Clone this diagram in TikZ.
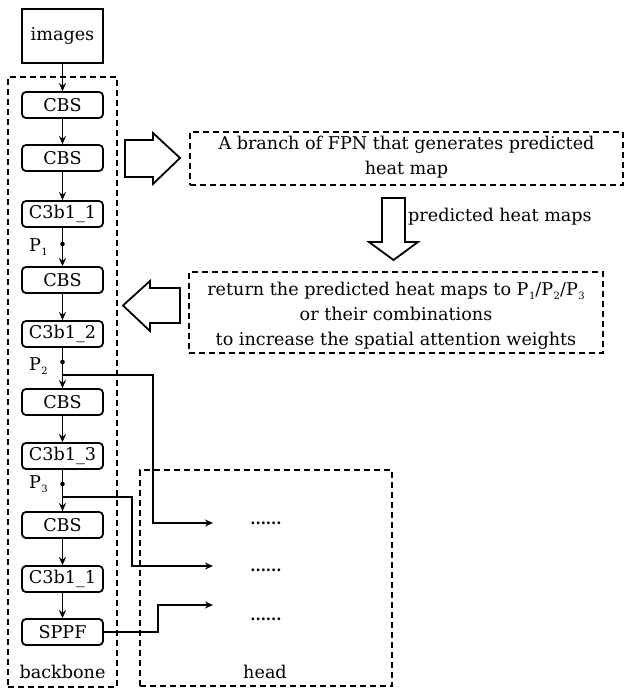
\documentclass[tikz,border=0pt]{standalone}
\usepackage{fontspec}
\setmainfont{DejaVu Serif}
\usetikzlibrary{arrows.meta}
\newcommand\psb[1]{P\kern0.5pt\raisebox{-4pt}{\fontsize{10}{10}\selectfont #1}}
\begin{document}
\begin{tikzpicture}[x=1pt,y=-1pt,
  txt/.style={font=\fontsize{17.6}{25}\selectfont, inner sep=0pt},
  blk/.style={draw, line width=1.8pt, rounded corners=4pt, minimum width=81pt, minimum height=26pt, inner sep=0pt, font=\fontsize{17.6}{23}\selectfont},
  dbox/.style={draw, line width=1.7pt, dash pattern=on 6pt off 4pt, inner sep=0pt},
  conn/.style={line width=1.6pt, -{Stealth[length=8pt,width=7pt]}},
  hollow/.style={draw, line width=1.8pt, line join=miter},
  dots/.style={inner sep=0pt, font=\bfseries\fontsize{15}{16}\selectfont},
]
\useasboundingbox (0,0) rectangle (625,691);

% dashed group boxes
\node[dbox, minimum width=109pt, minimum height=610pt] (backbone) at (62.5,382) {};
\node[dbox, minimum width=252pt, minimum height=216pt] (head) at (266,578) {};
\node[txt] (bblabel) at (62.5,672) {backbone};
\node[txt] (hdlabel) at (265,672) {head};

% input
\node[draw, line width=1.8pt, minimum width=81pt, minimum height=54pt, inner sep=0pt, font=\fontsize{17.6}{23}\selectfont] (img) at (62.5,36) {images};

% backbone blocks
\node[blk] (b1) at (62.5,105) {CBS};
\node[blk] (b2) at (62.5,158) {CBS};
\node[blk] (b3) at (62.5,214) {C3b1\_1};
\node[blk] (b4) at (62.5,280) {CBS};
\node[blk] (b5) at (62.5,334) {C3b1\_2};
\node[blk] (b6) at (62.5,402) {CBS};
\node[blk] (b7) at (62.5,456) {C3b1\_3};
\node[blk] (b8) at (62.5,525) {CBS};
\node[blk] (b9) at (62.5,579) {C3b1\_1};
\node[blk] (b10) at (62.5,632) {SPPF};

% tap points
\coordinate (p1) at (62.5,244);
\coordinate (p2) at (62.5,362);
\coordinate (p2b) at (62.5,375);
\coordinate (p3) at (62.5,484);
\coordinate (p3b) at (62.5,497);
\fill (p1) circle (2.3pt);
\fill (p2) circle (2.3pt);
\fill (p3) circle (2.3pt);
\node[txt, anchor=east] (lp1) at (48,247) {\psb{1}};
\node[txt, anchor=east] (lp2) at (48,366) {\psb{2}};
\node[txt, anchor=east] (lp3) at (48,484) {\psb{3}};

% vertical chain
\draw[conn] (img) -- (b1);
\draw[conn] (b1) -- (b2);
\draw[conn] (b2) -- (b3);
\draw[conn] (b3) -- (b4);
\draw[conn] (b4) -- (b5);
\draw[conn] (b5) -- (b6);
\draw[conn] (b6) -- (b7);
\draw[conn] (b7) -- (b8);
\draw[conn] (b8) -- (b9);
\draw[conn] (b9) -- (b10);

% head entries
\node[dots] (d1) at (266,523) {......};
\node[dots] (d2) at (266,570) {......};
\node[dots] (d3) at (266,619) {......};
\coordinate (h1) at (213,523);
\coordinate (h2) at (213,566);
\coordinate (h3) at (213,605);
\draw[conn] (p2b) -| (153,523) -- (h1);
\draw[conn] (p3b) -| (132,566) -- (h2);
\draw[conn] (b10.east) -- (158,632) |- (h3);

% FPN branch boxes
\node[dbox, minimum width=433pt, minimum height=53pt] (fpn) at (406.5,158.5) {};
\node[txt, align=center] (fpntxt) at (406.5,157.5) {A branch of FPN that generates predicted\\heat map};
\node[dbox, minimum width=414pt, minimum height=81pt] (ret) at (396,312.5) {};
\node[txt, align=center] (rettxt) at (396,316) {return the predicted heat maps to \psb{1}/\psb{2}/\psb{3}\\or their combinations\\to increase the spatial attention weights};
\node[txt, anchor=west] (phm) at (408,217) {predicted heat maps};

% hollow arrows
\draw[hollow] (125,140) -- (153,140) -- (153,133) -- (180,158) -- (153,184) -- (153,177) -- (125,177) -- cycle;
\draw[hollow] (180,288) -- (150,288) -- (150,281) -- (123,305.5) -- (150,331) -- (150,323) -- (180,323) -- cycle;
\draw[hollow] (382,198) -- (405,198) -- (405,242) -- (418,242) -- (393.5,260) -- (369,242) -- (382,242) -- cycle;
\end{tikzpicture}
\end{document}
